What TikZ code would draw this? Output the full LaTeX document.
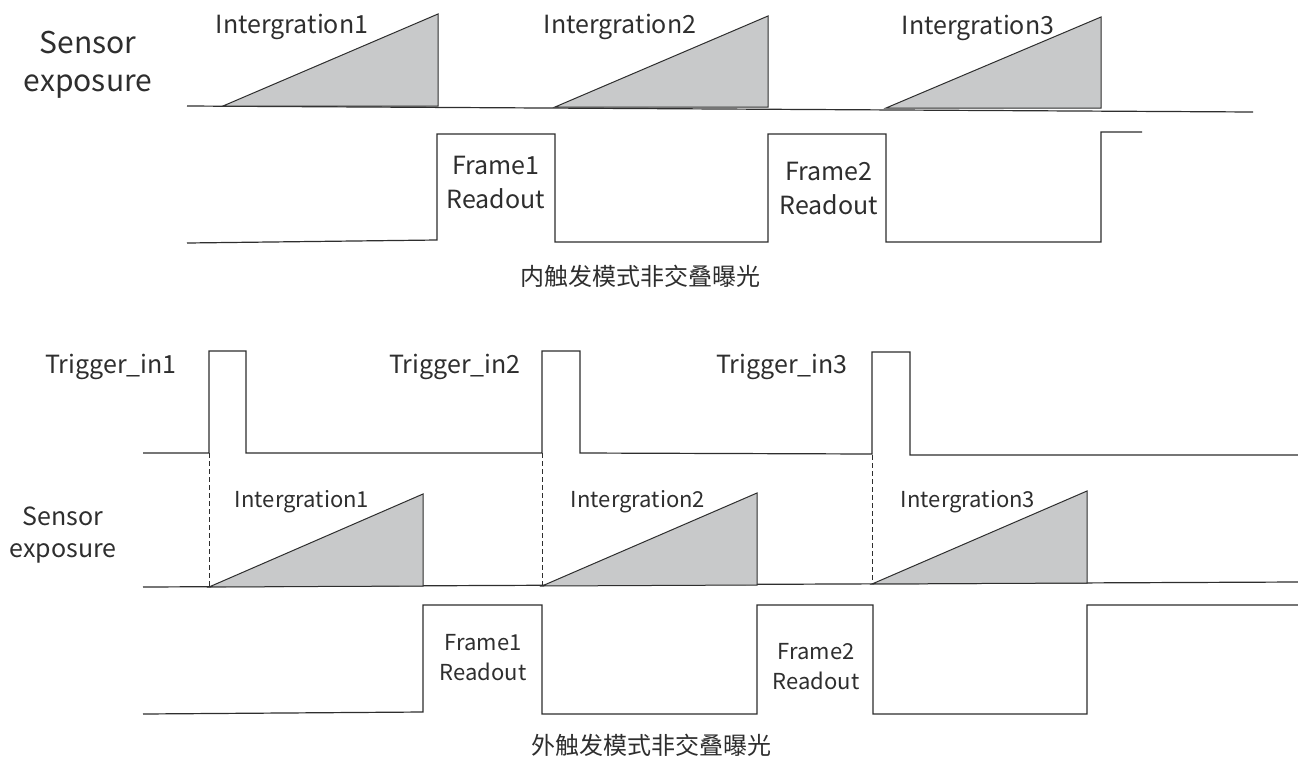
\documentclass[tikz,border=0pt]{standalone}
\usepackage{fontspec}
\setmainfont{Noto Sans CJK SC}
\definecolor{ink}{HTML}{2E2E2E}
\definecolor{tri}{HTML}{C8C9CA}
\begin{document}
\begin{tikzpicture}[x=1pt,y=-1pt,
  wave/.style={draw=ink, line width=1.2pt, line join=miter},
  ramp/.style={draw=ink, fill=tri, line width=1pt, line join=miter},
  guide/.style={draw=ink, line width=1pt, dash pattern=on 5pt off 3pt},
  lbl/.style={text=ink, inner sep=0pt, anchor=base},
  big/.style={lbl, font=\fontsize{30}{32}\selectfont},
  mid/.style={lbl, font=\fontsize{25}{27}\selectfont},
  small/.style={lbl, font=\fontsize{22}{24}\selectfont},
  captext/.style={lbl, font=\fontsize{24}{26}\selectfont}]
\useasboundingbox[fill=white] (0,0) rectangle (1298,758);

% ---------- top: internal trigger ----------
\node[big] (se1a) at (88,53) {Sensor};
\node[big] (se1b) at (88,91) {exposure};
\draw[wave] (187,106) -- (1253,112);
\draw[ramp] (223,106) -- (438,14) -- (438,106) -- cycle;
\draw[ramp] (555,107) -- (768,16) -- (768,107) -- cycle;
\draw[ramp] (886,108) -- (1101,17) -- (1101,108) -- cycle;
\node[mid] (ia1) at (292,33) {Intergration1};
\node[mid] (ia2) at (620,33) {Intergration2};
\node[mid] (ia3) at (978,34) {Intergration3};

\draw[wave] (187,243) -- (437,240) -- (437,134) -- (555,134) -- (555,242)
  -- (768,242) -- (768,134) -- (886,134) -- (886,242) -- (1101,242)
  -- (1101,132) -- (1142,132);
\node[mid] (fa1) at (496,174) {Frame1};
\node[mid] (ra1) at (496,208) {Readout};
\node[mid] (fa2) at (829,180) {Frame2};
\node[mid] (ra2) at (829,214) {Readout};
\node[captext] (capa) at (640,285) {内触发模式非交叠曝光};

% ---------- bottom: external trigger ----------
\node[mid] (t1) at (111,373) {Trigger\_in1};
\node[mid] (t2) at (455,373) {Trigger\_in2};
\node[mid] (t3) at (782,373) {Trigger\_in3};
\draw[wave] (143,453) -- (209,453) -- (209,351) -- (246,351) -- (246,453)
  -- (542,453) -- (542,351) -- (580,351) -- (580,453)
  -- (872,454) -- (872,352) -- (910,352) -- (910,455) -- (1298,455);
\draw[guide] (209,453) -- (209,587);
\draw[guide] (542,453) -- (542,586);
\draw[guide] (872,455) -- (872,584);

\node[mid] (se2a) at (63,525) {Sensor};
\node[mid] (se2b) at (63,557) {exposure};
\draw[wave] (143,587) -- (1298,582);
\draw[ramp] (209,587) -- (423,494) -- (423,586) -- cycle;
\draw[ramp] (542,586) -- (757,493) -- (757,585) -- cycle;
\draw[ramp] (872,584) -- (1087,491) -- (1087,583) -- cycle;
\node[small] (ib1) at (302,507) {Intergration1};
\node[small] (ib2) at (638,507) {Intergration2};
\node[small] (ib3) at (968,507) {Intergration3};

\draw[wave] (143,714) -- (423,712) -- (423,605) -- (542,605) -- (542,714)
  -- (757,714) -- (757,605) -- (873,605) -- (873,714) -- (1087,714)
  -- (1087,605) -- (1298,605);
\node[small] (fb1) at (483,650) {Frame1};
\node[small] (rb1) at (483,680) {Readout};
\node[small] (fb2) at (816,659) {Frame2};
\node[small] (rb2) at (816,689) {Readout};
\node[captext] (capb) at (651,754) {外触发模式非交叠曝光};
\end{tikzpicture}
\end{document}
